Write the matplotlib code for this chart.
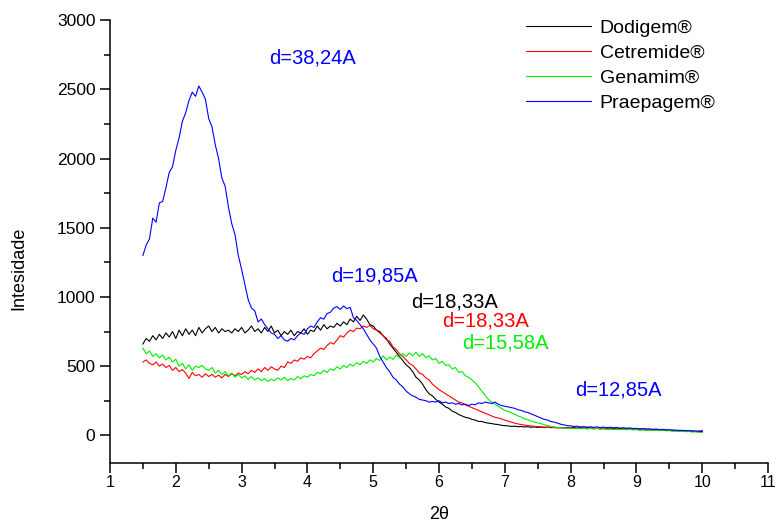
import numpy as np
import matplotlib
matplotlib.use("Agg")
import matplotlib.pyplot as plt
from matplotlib.ticker import MultipleLocator

plt.rcParams['font.family'] = ['Liberation Sans', 'DejaVu Sans']

# 2-theta sampling: 1.50 .. 10.00 in steps of 0.05 (171 points)
two_theta = np.linspace(1.5, 10.0, 171)

# Each row of ten values spans 0.5 degrees of 2-theta
dodigem = [
    660, 700, 680, 720, 690, 730, 700, 740, 710, 750,
    700, 760, 720, 770, 730, 760, 720, 780, 740, 770,
    790, 750, 780, 740, 770, 750, 760, 740, 770, 750,
    780, 740, 760, 790, 750, 770, 740, 780, 750, 790,
    740, 760, 720, 750, 730, 760, 720, 750, 740, 770,
    730, 760, 750, 790, 760, 800, 770, 790, 780, 810,
    790, 820, 800, 840, 820, 860, 830, 870, 840, 800,
    790, 760, 750, 720, 700, 660, 630, 600, 570, 540,
    510, 490, 460, 420, 400, 370, 330, 300, 285, 260,
    240, 225, 205, 195, 175, 165, 150, 140, 130, 125,
    115, 110, 100, 100, 92, 88, 85, 80, 78, 72,
    70, 68, 64, 66, 62, 64, 60, 62, 58, 61,
    57, 60, 56, 59, 55, 58, 54, 57, 53, 56,
    54, 57, 52, 56, 51, 58, 50, 54, 49, 53,
    50, 52, 47, 51, 46, 49, 45, 48, 44, 46,
    43, 45, 41, 44, 40, 42, 38, 41, 37, 39,
    35, 37, 33, 35, 31, 33, 29, 31, 27, 29,
    33,
]

cetremide = [
    530, 545, 520, 510, 530, 500, 515, 490, 505, 470,
    490, 460, 475, 450, 410, 455, 430, 440, 420, 445,
    425, 440, 420, 435, 415, 440, 425, 445, 430, 450,
    440, 460, 445, 470, 455, 480, 460, 490, 470, 495,
    480, 470, 500, 490, 530, 520, 545, 535, 560, 550,
    570, 560, 590, 610, 630, 620, 650, 670, 660, 690,
    720, 710, 740, 760, 750, 775, 770, 790, 780, 795,
    770, 760, 740, 720, 690, 680, 640, 620, 590, 570,
    545, 520, 505, 480, 450, 440, 415, 400, 370, 350,
    330, 315, 300, 285, 270, 255, 240, 235, 220, 210,
    200, 190, 180, 170, 160, 150, 140, 130, 125, 118,
    110, 102, 95, 88, 82, 78, 74, 70, 68, 65,
    63, 61, 59, 58, 57, 55, 56, 53, 55, 52,
    53, 50, 54, 49, 52, 48, 53, 47, 51, 46,
    49, 45, 48, 44, 47, 43, 46, 42, 45, 41,
    43, 39, 42, 38, 41, 37, 40, 36, 38, 34,
    36, 32, 34, 30, 32, 28, 30, 26, 28, 24,
    24,
]

genamim = [
    630, 590, 610, 570, 590, 560, 580, 545, 565, 530,
    550, 500, 520, 480, 510, 470, 500, 490, 505, 480,
    470, 490, 450, 470, 440, 460, 430, 450, 420, 440,
    415, 430, 405, 425, 400, 415, 395, 410, 390, 405,
    395, 415, 400, 420, 395, 410, 400, 425, 410, 430,
    420, 440, 430, 455, 445, 470, 455, 480, 470, 495,
    480, 505, 490, 515, 500, 525, 510, 535, 520, 545,
    530, 555, 540, 575, 545, 565, 550, 580, 560, 590,
    570, 595, 575, 600, 570, 590, 560, 575, 545, 555,
    520, 535, 505, 510, 480, 490, 455, 460, 430, 420,
    400, 380, 350, 320, 290, 260, 240, 225, 210, 195,
    180, 172, 162, 152, 140, 132, 120, 112, 104, 96,
    90, 84, 76, 70, 64, 60, 57, 55, 53, 51,
    52, 49, 53, 48, 51, 47, 50, 46, 49, 45,
    47, 43, 46, 42, 45, 41, 44, 40, 43, 39,
    41, 37, 40, 36, 39, 35, 38, 34, 37, 33,
    34, 30, 32, 28, 30, 26, 28, 24, 26, 22,
    22,
]

praepagem = [
    1300, 1375, 1420, 1570, 1540, 1680, 1690, 1790, 1900, 1940,
    2060, 2150, 2270, 2330, 2420, 2480, 2450, 2525, 2480, 2430,
    2290, 2230, 2100, 2000, 1860, 1800, 1650, 1530, 1450, 1300,
    1200, 1090, 980, 920, 900, 820, 840, 800, 770, 740,
    730, 700, 720, 690, 680, 700, 690, 720, 740, 730,
    770, 790, 780, 820, 850, 840, 880, 890, 920, 930,
    910, 935, 915, 925, 850, 830, 800, 770, 730, 690,
    660, 630, 570, 530, 490, 460, 420, 400, 370, 350,
    320, 300, 285, 275, 260, 255, 250, 240, 245, 240,
    250, 235, 240, 230, 235, 225, 230, 220, 225, 215,
    225, 220, 235, 230, 240, 235, 230, 240, 225, 215,
    210, 205, 200, 195, 185, 180, 170, 165, 155, 145,
    135, 125, 115, 110, 100, 95, 88, 80, 75, 70,
    68, 64, 66, 60, 63, 58, 62, 57, 61, 56,
    59, 55, 58, 54, 57, 52, 55, 51, 53, 49,
    50, 47, 49, 45, 47, 43, 45, 41, 43, 39,
    40, 37, 38, 35, 36, 33, 34, 31, 32, 29,
    28,
]

series_names = ["Dodigem®", "Cetremide®", "Genamim®", "Praepagem®"]
series_colors = ["#000000", "#ff0000", "#00ee00", "#0000ff"]

# d-spacing annotations: text, 2-theta position, intensity position, colour
peak_labels = ["d=38,24A", "d=19,85A", "d=18,33A", "d=18,33A", "d=15,58A", "d=12,85A"]
peak_x = [4.07, 5.02, 6.24, 6.71, 7.01, 8.73]
peak_y = [2730, 1150, 965, 825, 670, 330]
peak_colors = ["#0000ff", "#0000ff", "#000000", "#ff0000", "#00ee00", "#0000ff"]

fig = plt.figure(figsize=(7.79, 5.27), dpi=100)
ax = fig.add_axes([0.1412, 0.1215, 0.8447, 0.840])

for vals, name, col in zip([dodigem, cetremide, genamim, praepagem],
                           series_names, series_colors):
    ax.plot(two_theta, vals, color=col, lw=0.8, label=name)

for txt, px, py, c in zip(peak_labels, peak_x, peak_y, peak_colors):
    ax.text(px, py, txt, color=c, fontsize=14.5, ha="center", va="center")

ax.set_xlim(1, 11)
ax.set_ylim(-200, 3000)
ax.xaxis.set_major_locator(MultipleLocator(1))
ax.xaxis.set_minor_locator(MultipleLocator(0.5))
ax.yaxis.set_major_locator(MultipleLocator(500))
ax.yaxis.set_minor_locator(MultipleLocator(250))
ax.set_yticks([0, 500, 1000, 1500, 2000, 2500, 3000])

for side in ("top", "right"):
    ax.spines[side].set_visible(False)
for side in ("left", "bottom"):
    ax.spines[side].set_linewidth(1.1)

ax.tick_params(which="major", direction="out", length=7.5, width=1.1, pad=3)
ax.tick_params(axis="y", which="major", labelsize=12.5)
ax.tick_params(axis="x", which="major", labelsize=11.5, pad=1.5)
ax.tick_params(which="minor", direction="out", length=4, width=1.1)

ax.set_xlabel("2θ", fontsize=13, labelpad=11)
ax.set_ylabel("Intesidade", fontsize=13)
ax.yaxis.set_label_coords(-0.125, 0.44)

leg = ax.legend(loc="upper left", bbox_to_anchor=(0.675, 0.963),
                bbox_transform=fig.transFigure, frameon=False, fontsize=14,
                handlelength=3.35, handletextpad=0.45, labelspacing=0.38,
                borderpad=0, borderaxespad=0)

fig.savefig("out.png", dpi=100)
